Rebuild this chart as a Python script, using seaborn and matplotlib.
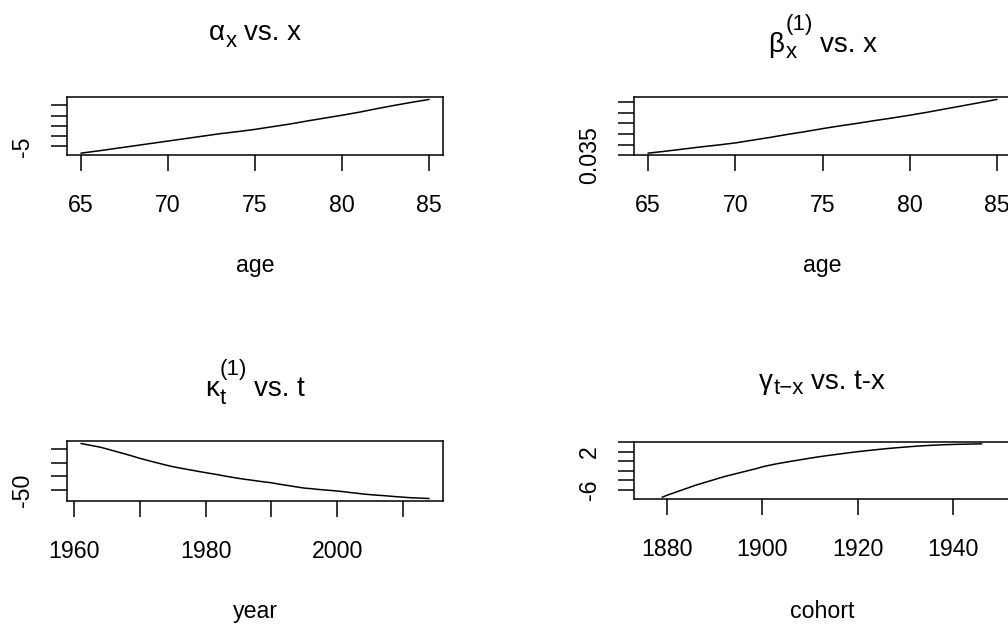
import numpy as np
import pandas as pd
import matplotlib
matplotlib.use("Agg")
import matplotlib.pyplot as plt
import seaborn as sns

# ---------------- data ----------------
ages = list(range(65, 86))
alpha_x = [-5.33, -5.22, -5.10, -4.98, -4.86, -4.74, -4.62, -4.50, -4.38, -4.28,
           -4.17, -4.04, -3.91, -3.76, -3.62, -3.48, -3.33, -3.16, -3.00, -2.85, -2.71]
beta_x = [0.0360, 0.0369, 0.0379, 0.0389, 0.0398, 0.0408, 0.0421, 0.0434, 0.0448, 0.0461,
          0.0475, 0.0488, 0.0500, 0.0513, 0.0525, 0.0538, 0.0552, 0.0567, 0.0582, 0.0597, 0.0612]

years = list(range(1961, 2015))
kappa_t = [-16.3, -17.2, -18.1, -19.0, -20.3, -21.6, -22.9, -24.2, -25.6, -27.0,
           -28.3, -29.5, -30.7, -31.9, -33.0, -33.9, -34.8, -35.6, -36.5, -37.3,
           -38.1, -38.9, -39.8, -40.6, -41.4, -42.1, -42.7, -43.4, -44.0, -44.6,
           -45.4, -46.2, -46.9, -47.7, -48.4, -48.8, -49.3, -49.7, -50.1, -50.5,
           -51.0, -51.6, -52.1, -52.7, -53.1, -53.5, -53.8, -54.2, -54.6, -54.9,
           -55.3, -55.5, -55.7, -55.9]

cohorts = list(range(1876, 1950))
gamma_c = [np.nan, np.nan, np.nan,
           -7.5, -7.1, -6.75, -6.4, -6.05, -5.7, -5.35, -5.0, -4.7, -4.4,
           -4.1, -3.8, -3.5, -3.2, -2.95, -2.7, -2.45, -2.2, -1.95, -1.7,
           -1.45, -1.15, -0.93, -0.72, -0.52, -0.34, -0.17, 0.0, 0.16, 0.33,
           0.5, 0.66, 0.82, 0.97, 1.11, 1.25, 1.38, 1.51, 1.64, 1.77,
           1.9, 2.02, 2.13, 2.24, 2.35, 2.45, 2.55, 2.65, 2.74, 2.83,
           2.91, 2.99, 3.07, 3.14, 3.21, 3.27, 3.33, 3.38, 3.43, 3.47,
           3.5, 3.53, 3.56, 3.58, 3.6, 3.62, 3.64, 3.66,
           np.nan, np.nan, np.nan]

# tick values and the labels R kept
age_ticks = [65, 70, 75, 80, 85]
alpha_ticks = [-5.0, -4.5, -4.0, -3.5, -3.0]
alpha_labels = ["-5", "", "", "", ""]
beta_ticks = [0.035, 0.040, 0.045, 0.050, 0.055, 0.060]
beta_labels = ["0.035", "", "", "", "", ""]
year_ticks = [1960, 1970, 1980, 1990, 2000, 2010]
year_labels = ["1960", "", "1980", "", "2000", ""]
kappa_ticks = [-50, -40, -30, -20]
kappa_labels = ["-50", "", "", ""]
cohort_ticks = [1880, 1900, 1920, 1940]
gamma_ticks = [-6, -4, -2, 0, 2, 4]
gamma_labels = ["-6", "", "", "", "2", ""]

# titles: (symbol, subscript, superscript, rest)
titles = [("\u03b1", "x", "", "vs. x"),
          ("\u03b2", "x", "(1)", "vs. x"),
          ("\u03ba", "t", "(1)", "vs. t"),
          ("\u03b3", "t\u2212x", "", "vs. t-x")]
xlabels = ["age", "age", "year", "cohort"]

# ---------------- style ----------------
sns.set_style("white")
plt.rcParams["font.family"] = ["Liberation Sans", "DejaVu Sans"]
plt.rcParams["axes.unicode_minus"] = False

W, H = 1008, 625
fig = plt.figure(figsize=(W / 100, H / 100), dpi=100)
fig.patch.set_facecolor("white")
renderer = fig.canvas.get_renderer()

FS = 16.7
TFS = 20.0
SFS = TFS * 0.8


def px_axes(x0, y0, x1, y1):
    return fig.add_axes([x0 / W, 1 - y1 / H, (x1 - x0) / W, (y1 - y0) / H])


def r_lim(vals):
    v = np.asarray(vals, dtype=float)
    v = v[~np.isnan(v)]
    lo, hi = v.min(), v.max()
    d = (hi - lo) * 0.04
    return lo - d, hi + d


def text_px(x, y, s, size):
    t = fig.text(x / W, 1 - y / H, s, ha="left", va="baseline", fontsize=size, color="black")
    return t


def width_px(t):
    return t.get_window_extent(renderer).width


def draw_title(cx, base, parts, sub_dy=6.5, sup_dy=21.5, gap=7.0):
    sym, sub, sup, rest = parts
    t_sym = text_px(0, base, sym, TFS)
    t_sub = text_px(0, base + sub_dy, sub, SFS) if sub else None
    t_sup = text_px(0, base - sup_dy, sup, SFS) if sup else None
    t_rest = text_px(0, base, rest, TFS)
    w_sym = width_px(t_sym) + 1.0
    w_scr = max(width_px(t_sub) if t_sub else 0, width_px(t_sup) if t_sup else 0)
    w_rest = width_px(t_rest)
    total = w_sym + w_scr + gap + w_rest
    x = cx - total / 2
    t_sym.set_x(x / W)
    if t_sub:
        t_sub.set_x((x + w_sym) / W)
    if t_sup:
        t_sup.set_x((x + w_sym) / W)
    t_rest.set_x((x + w_sym + w_scr + gap) / W)


panels = [
    dict(box=(67, 97.3, 443, 155.3), x=ages, y=alpha_x, xr=ages, xt=age_ticks, xl=[str(t) for t in age_ticks],
         yt=alpha_ticks, yl=alpha_labels, tb=40.0, lb=272.5, sd=7.0),
    dict(box=(634, 97.3, 1011, 155.3), x=ages, y=beta_x, xr=ages, xt=age_ticks, xl=[str(t) for t in age_ticks],
         yt=beta_ticks, yl=beta_labels, tb=51.7, lb=272.5, sd=6.6),
    dict(box=(67, 441.3, 443, 500.7), x=years, y=kappa_t, xr=years, xt=year_ticks, xl=year_labels,
         yt=kappa_ticks, yl=kappa_labels, tb=396.0, lb=618.3, sd=7.5),
    dict(box=(634, 441.7, 1010, 499.3), x=cohorts, y=gamma_c, xr=cohorts, xt=cohort_ticks,
         xl=[str(t) for t in cohort_ticks], yt=gamma_ticks, yl=gamma_labels, tb=388.7, lb=618.3, sd=5.0),
]

for i, p in enumerate(panels):
    x0, y0, x1, y1 = p["box"]
    ax = px_axes(x0, y0, x1, y1)
    df = pd.DataFrame({"x": p["x"], "y": p["y"]}).dropna()
    sns.lineplot(data=df, x="x", y="y", ax=ax, color="black", linewidth=1.1, estimator=None)
    ax.set_xticks(p["xt"])
    ax.set_xticklabels(p["xl"])
    ax.set_yticks(p["yt"])
    ax.set_yticklabels(p["yl"])
    ax.set_xlim(*r_lim(p["xr"]))
    ax.set_ylim(*r_lim(p["y"]))
    ax.set_xlabel("")
    ax.set_ylabel("")
    for s in ax.spines.values():
        s.set_visible(True)
        s.set_color("black")
        s.set_linewidth(1.1)
    ax.tick_params(axis="both", which="major", direction="out", length=11.5, width=1.1,
                   color="black", labelsize=FS, labelcolor="black")
    ax.tick_params(axis="x", pad=16.5, bottom=True)
    ax.tick_params(axis="y", pad=12.5, left=True, labelrotation=90)
    for lab in ax.get_yticklabels():
        lab.set_va("center")
    ax.grid(False)
    ax.set_facecolor("white")

    cx = (x0 + x1) / 2
    draw_title(cx, p["tb"], titles[i], sub_dy=p["sd"])
    fig.text(cx / W, 1 - p["lb"] / H, xlabels[i], ha="center", va="baseline", fontsize=FS, color="black")

fig.savefig("out.png", dpi=100, facecolor="white")
